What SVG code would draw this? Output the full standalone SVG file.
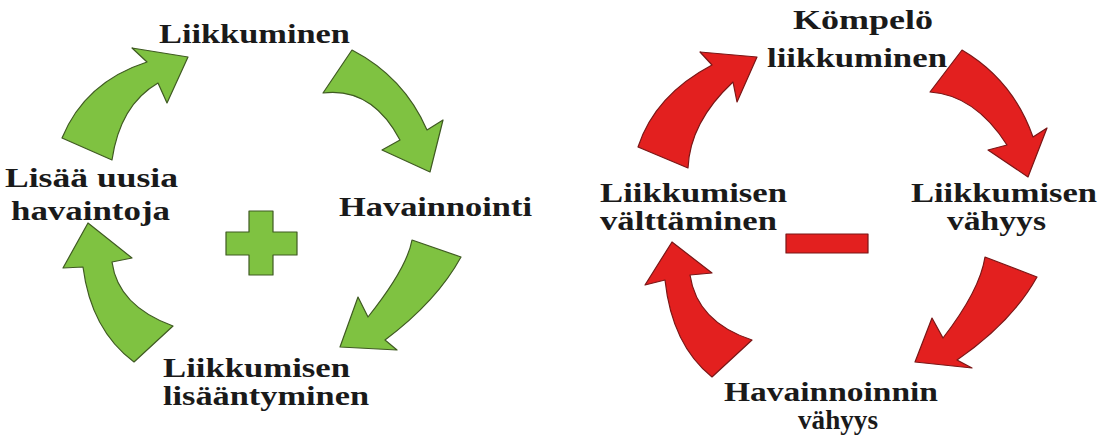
<svg xmlns="http://www.w3.org/2000/svg" width="1102" height="443" viewBox="0 0 1102 443">
<style>
.t{font-family:"Liberation Serif","Times New Roman",serif;font-weight:bold;font-size:28px;fill:#1a1a1a}
.g{fill:#7fc241;stroke:#3f5a22;stroke-width:1.2;stroke-linejoin:round}
.r{fill:#e3201f;stroke:#7a1616;stroke-width:1.2;stroke-linejoin:round}
</style>
<rect width="1102" height="443" fill="#ffffff"/>
<g id="connectors">
<path class="g" d="M62,138 Q85,82 147,62 L132,48 L188,57 L167,103 L158,83 Q120,105 112,160 Z"/>
<path class="g" d="M352,50 Q404,77 427,130 L443,120 L430,172 L382,150 L400,140 Q372,87 323,93 Z"/>
<path class="g" d="M412,240 L461,257 Q437,301 385,340 L397,350 L340,347 L358,297 L368,317 Q407,268 412,240 Z"/>
<path class="g" d="M88,223 L132,258 L112,262 Q118,306 173,326 L134,362 Q91,330 83,267 L63,268 Z"/>
<path class="r" d="M638,147 Q655,95 712,65 L700,52 L757,57 L737,102 L733,82 Q690,122 688,168 Z"/>
<path class="r" d="M962,50 Q1013,80 1033,137 L1047,128 L1028,177 L988,150 L1007,145 Q975,95 930,92 Z"/>
<path class="r" d="M985,257 L1037,277 Q1012,322 957,360 L972,368 L915,362 L932,318 L943,338 Q980,290 985,257 Z"/>
<path class="r" d="M672,242 L712,273 L690,275 Q697,322 752,340 L712,377 Q672,345 665,280 L645,285 Z"/>
</g>
<g id="liikkuminen"><text class="t" x="159" y="43" textLength="191" lengthAdjust="spacingAndGlyphs">Liikkuminen</text></g>
<g id="havainnointi"><text class="t" x="339" y="216" textLength="193" lengthAdjust="spacingAndGlyphs">Havainnointi</text></g>
<g id="liikkumisen-lisaantyminen">
<text class="t" x="163" y="377" textLength="187" lengthAdjust="spacingAndGlyphs">Liikkumisen</text>
<text class="t" x="163" y="405" textLength="206" lengthAdjust="spacingAndGlyphs">lisääntyminen</text>
</g>
<g id="lisaa-uusia-havaintoja">
<text class="t" x="5" y="187" textLength="173" lengthAdjust="spacingAndGlyphs">Lisää uusia</text>
<text class="t" x="11" y="220" textLength="159" lengthAdjust="spacingAndGlyphs">havaintoja</text>
</g>
<g id="plus"><path class="g" d="M249,211 H273 V232 H297 V255 H273 V275 H249 V255 H226 V232 H249 Z"/></g>
<g id="kompelo-liikkuminen">
<text class="t" x="793" y="29" textLength="140" lengthAdjust="spacingAndGlyphs">Kömpelö</text>
<text class="t" x="767" y="67" textLength="180" lengthAdjust="spacingAndGlyphs">liikkuminen</text>
</g>
<g id="liikkumisen-vahyys">
<text class="t" x="911" y="202" textLength="186" lengthAdjust="spacingAndGlyphs">Liikkumisen</text>
<text class="t" x="947" y="230" textLength="99" lengthAdjust="spacingAndGlyphs">vähyys</text>
</g>
<g id="havainnoinnin-vahyys">
<text class="t" x="724" y="401" textLength="214" lengthAdjust="spacingAndGlyphs">Havainnoinnin</text>
<text class="t" x="798" y="429" textLength="80" lengthAdjust="spacingAndGlyphs">vähyys</text>
</g>
<g id="liikkumisen-valttaminen">
<text class="t" x="600" y="202" textLength="187" lengthAdjust="spacingAndGlyphs">Liikkumisen</text>
<text class="t" x="600" y="230" textLength="177" lengthAdjust="spacingAndGlyphs">välttäminen</text>
</g>
<g id="minus"><rect class="r" x="786" y="234" width="82" height="19"/></g>
</svg>
